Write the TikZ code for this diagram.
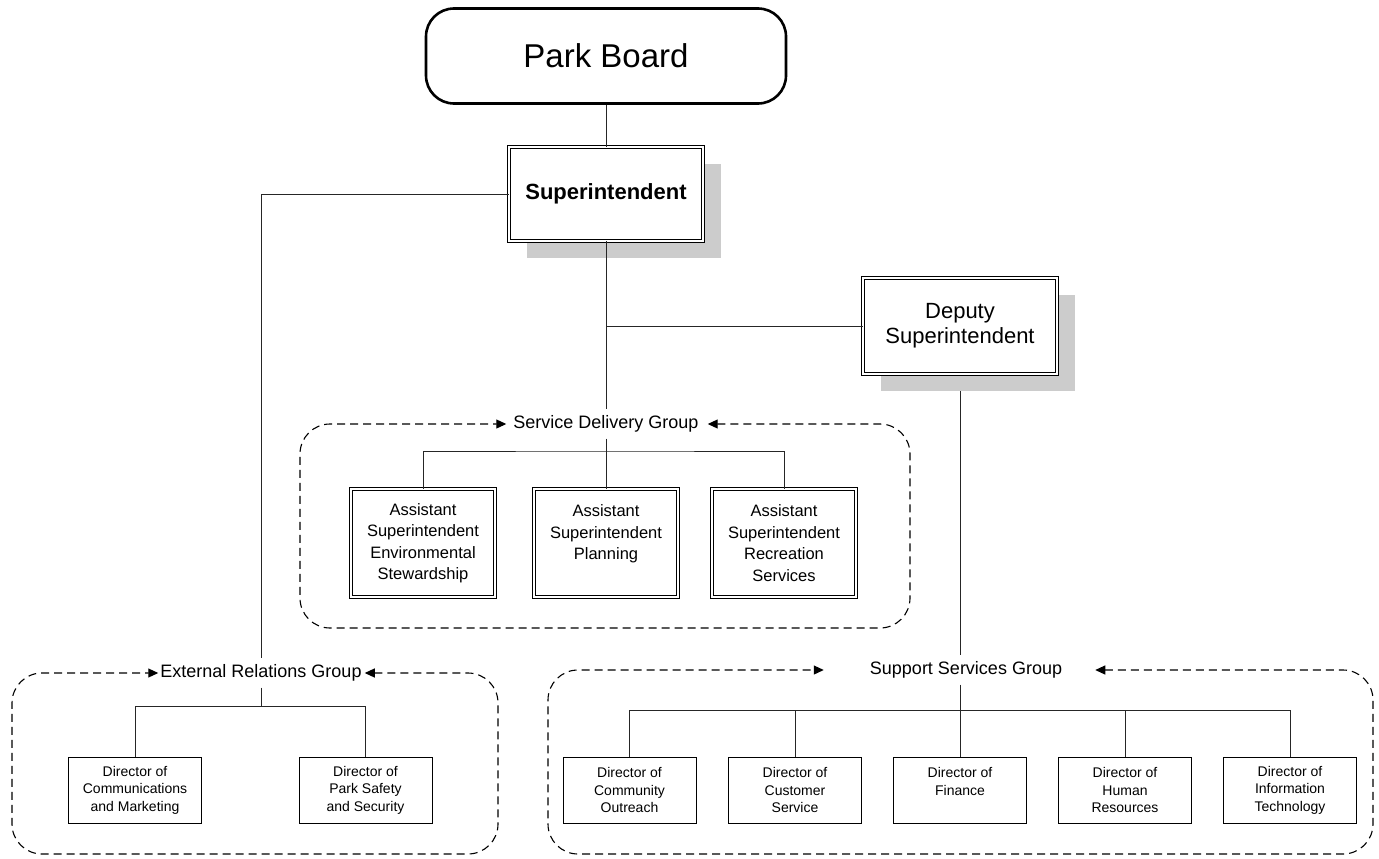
\documentclass[tikz,border=0pt]{standalone}
\usepackage{fontspec}
\setmainfont{Liberation Sans}
\usetikzlibrary{arrows.meta,shadows}

\begin{document}
\begin{tikzpicture}[x=1bp, y=-1bp,
  board/.style={rectangle, draw, line width=2.6bp, rounded corners=28bp,
                minimum width=360bp, minimum height=95bp,
                font=\fontsize{33bp}{38bp}\selectfont},
  chief/.style={rectangle, draw, double, double distance=2bp, line width=0.8bp,
                fill=white, align=center, minimum width=194bp, minimum height=94bp,
                drop shadow={shadow xshift=17.5bp, shadow yshift=-17bp,
                             fill=gray!40, opacity=1}},
  asst/.style={rectangle, draw, double, double distance=2bp, line width=0.8bp,
               fill=white, align=center, minimum width=144bp, minimum height=108bp,
               font=\fontsize{16.5bp}{21.5bp}\selectfont},
  dir/.style={rectangle, draw, line width=0.9bp, fill=white, align=center,
              minimum width=133bp, minimum height=66bp,
              font=\fontsize{14bp}{17.5bp}\selectfont},
  grplabel/.style={inner xsep=0pt, inner ysep=6bp,
                   font=\fontsize{18bp}{21bp}\selectfont},
  grpbox/.style={dash pattern=on 8bp off 5bp, line width=1.1bp, rounded corners=30bp,
                 arrows={Triangle[length=10bp,width=9bp]-Triangle[length=10bp,width=9bp]}},
  link/.style={line width=0.9bp, black!85}
]
  \useasboundingbox (0,0) rectangle (1379,858);

  % Top of the chart
  \node[board] (board) at (606,56) {Park Board};
  \node[chief, font=\bfseries\fontsize{22bp}{25bp}\selectfont] (sup) at (606,194) {Superintendent};
  \node[chief, minimum height=96bp, font=\fontsize{22bp}{25bp}\selectfont] (dep) at (960,326) {Deputy\\Superintendent};

  % Group labels
  \node[grplabel] (sdg) at (606,424) {Service Delivery Group};
  \node[grplabel] (erg) at (261,673) {External Relations Group};
  \node[grplabel] (ssg) at (966,670) {Support Services Group};

  % Service delivery
  \node[asst] (ase) at (423,543) {Assistant\\Superintendent\\Environmental\\Stewardship};
  \node[asst] (asp) at (606,543) {Assistant\\Superintendent\\Planning\\\mbox{}};
  \node[asst] (asr) at (784,543) {Assistant\\Superintendent\\Recreation\\Services};

  % External relations
  \node[dir] (dcm) at (135,790) {Director of\\Communications\\and Marketing};
  \node[dir] (dps) at (365.5,790) {Director of\\Park Safety\\and Security};

  % Support services
  \node[dir] (dco) at (629.5,790) {Director of\\Community\\Outreach};
  \node[dir] (dcs) at (795,790) {Director of\\Customer\\Service};
  \node[dir] (dfi) at (960,790) {Director of\\Finance\\\mbox{}};
  \node[dir] (dhr) at (1125,790) {Director of\\Human\\Resources};
  \node[dir] (dit) at (1290,790) {Director of\\Information\\Technology};

  \coordinate (sdbar) at (606,451);
  \coordinate (erbar) at (261,706);
  \coordinate (ssbar) at (960,710);

  % Reporting lines
  \draw[link] (board) -- (sup);
  \draw[link] (sup.west) -| (erg.north);
  \draw[link] (sup) -- (sdg);
  \draw[link] (dep.west) -- (dep.west -| sup.south);
  \draw[link] (sdg) -- (asp);
  \draw[link] (ase.north) |- (sdbar) -| (asr.north);
  \draw[link] (erg.south) -- (erbar);
  \draw[link] (dcm.north) |- (erbar) -| (dps.north);
  \draw[link] ([yshift=-17bp]dep.south) -- (dep.south |- ssg.north);
  \draw[link] (dep.south |- ssg.south) -- (dfi.north);
  \draw[link] (dco.north) |- (ssbar) -| (dit.north);
  \draw[link] (dcs.north) -- (dcs.north |- ssbar);
  \draw[link] (dhr.north) -- (dhr.north |- ssbar);

  % Group boxes
  \draw[grpbox] ([xshift=9bp]sdg.east) -- (910,424) -- (910,628) -- (300,628) -- (300,424) -- ([xshift=-7bp]sdg.west);
  \draw[grpbox] ([xshift=3bp]erg.east) -- (498,673) -- (498,854) -- (12,854) -- (12,673) -- ([xshift=-2bp]erg.west);
  \draw[grpbox] ([xshift=33bp]ssg.east) -- (1373,670) -- (1373,854) -- (548,854) -- (548,670) -- ([xshift=-46bp]ssg.west);
\end{tikzpicture}
\end{document}
